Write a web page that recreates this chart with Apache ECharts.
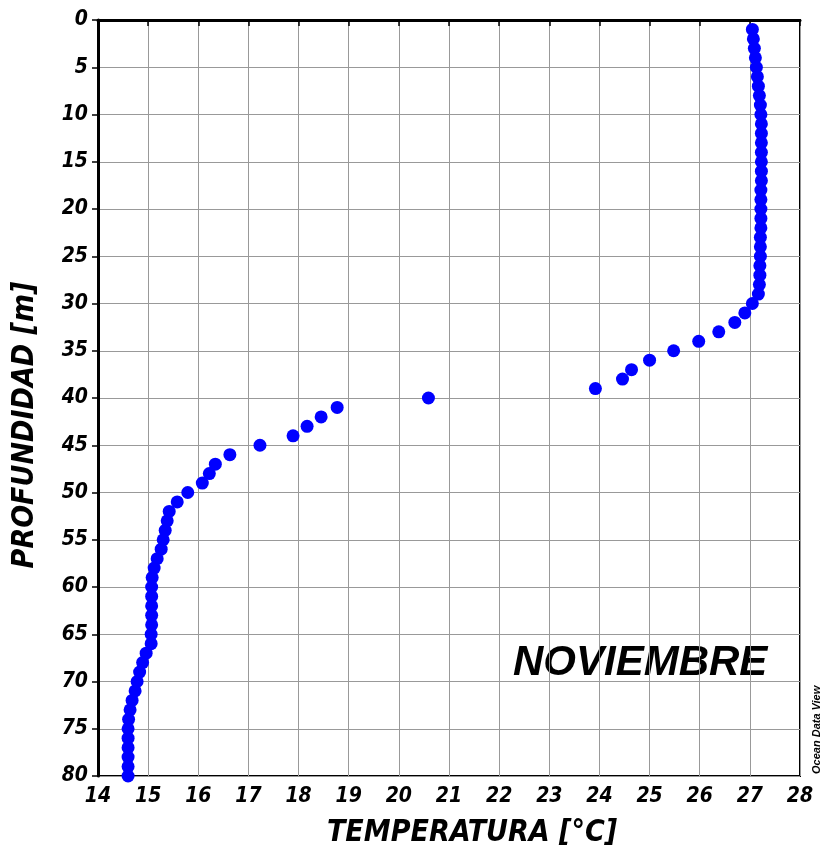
<!DOCTYPE html>
<html>
<head>
<meta charset="utf-8">
<script src="https://cdn.jsdelivr.net/npm/echarts@6/dist/echarts.min.js"></script>
<style>
  html, body { margin: 0; padding: 0; background: #fff; }
  #chart { width: 820px; height: 853px; }
</style>
</head>
<body>
<div id="chart"></div>
<script>
// depth in metres, one sample per metre
const depths = [];
for (let d = 1; d <= 80; d++) depths.push(d);

// temperature (°C)
const temps = [
  27.05, 27.07, 27.09, 27.11, 27.13, 27.15, 27.17, 27.19, 27.21, 27.22,
  27.23, 27.23, 27.23, 27.23, 27.23, 27.23, 27.23, 27.22, 27.22, 27.22,
  27.22, 27.22, 27.21, 27.21, 27.21, 27.20, 27.20, 27.19, 27.17, 27.05,
  26.90, 26.70, 26.38, 25.98, 25.48, 25.00, 24.64, 24.46, 23.92, 20.59,
  18.77, 18.45, 18.17, 17.89, 17.23, 16.63, 16.34, 16.22, 16.08, 15.79,
  15.58, 15.42, 15.38, 15.34, 15.30, 15.26, 15.18, 15.12, 15.08, 15.07,
  15.07, 15.07, 15.07, 15.07, 15.06, 15.06, 14.96, 14.89, 14.83, 14.78,
  14.74, 14.68, 14.64, 14.61, 14.60, 14.60, 14.60, 14.60, 14.60, 14.60
];

const xTicks = [14, 28, 1];   // min, max, step
const yTicks = [0, 80, 5];

const points = depths.map((d, i) => [temps[i], d]);

const font = "'DejaVu Sans Condensed', 'Liberation Sans', Arial, sans-serif";
const chart = echarts.init(document.getElementById('chart'));

chart.setOption({
  animation: false,
  backgroundColor: '#fff',
  grid: {
    left: 98, right: 20, top: 20, bottom: 76,
    show: true, borderColor: '#000', borderWidth: 2
  },
  xAxis: {
    type: 'value',
    min: xTicks[0], max: xTicks[1], interval: xTicks[2],
    name: 'TEMPERATURA [°C]',
    nameLocation: 'middle',
    nameGap: 42,
    nameTextStyle: {
      fontFamily: font, fontSize: 30, fontWeight: 'bold', fontStyle: 'italic', color: '#000',
      padding: [0, 0, 0, 46]
    },
    axisLine: { lineStyle: { color: '#000', width: 3 } },
    axisTick: { show: true, length: 6, lineStyle: { color: '#000', width: 1.5 } },
    axisLabel: { fontFamily: font, fontSize: 21, fontWeight: 'bold', fontStyle: 'italic', color: '#000', margin: 10 },
    splitLine: { show: true, lineStyle: { color: '#999', width: 1 } }
  },
  yAxis: {
    type: 'value',
    inverse: true,
    min: yTicks[0], max: yTicks[1], interval: yTicks[2],
    name: 'PROFUNDIDAD [m]',
    nameLocation: 'middle',
    nameGap: 58,
    nameTextStyle: {
      fontFamily: font, fontSize: 30, fontWeight: 'bold', fontStyle: 'italic', color: '#000',
      padding: [0, 54, 0, 0]
    },
    axisLine: { lineStyle: { color: '#000', width: 3 } },
    axisTick: { show: true, length: 6, lineStyle: { color: '#000', width: 1.5 } },
    axisLabel: { fontFamily: font, fontSize: 21, fontWeight: 'bold', fontStyle: 'italic', color: '#000', margin: 10 },
    splitLine: { show: true, lineStyle: { color: '#999', width: 1 } }
  },
  series: [{
    type: 'scatter',
    data: points,
    symbolSize: 13,
    itemStyle: { color: '#0000ff', opacity: 1 },
    clip: true,
    z: 5
  }],
  graphic: [
    {
      type: 'text',
      left: 513, top: 642,
      style: { text: 'NOVIEMBRE', font: "bold italic 42px 'Liberation Sans', Arial, sans-serif", fill: '#000' }
    },
    {
      type: 'text',
      x: 811, y: 774,
      rotation: Math.PI / 2,
      style: { text: 'Ocean Data View', font: "bold italic 11px 'Liberation Sans', Arial, sans-serif", fill: '#000' }
    }
  ]
});
</script>
</body>
</html>
